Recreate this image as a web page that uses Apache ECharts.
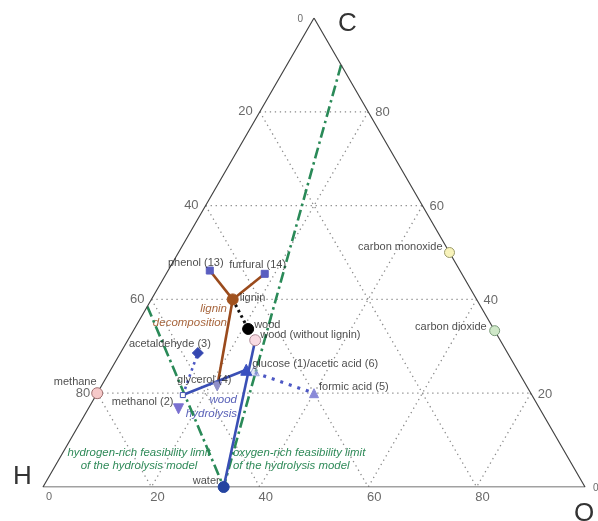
<!DOCTYPE html>
<html>
<head>
<meta charset="utf-8">
<script src="https://cdn.jsdelivr.net/npm/echarts@6/dist/echarts.min.js"></script>
<style>
html, body { margin: 0; padding: 0; background: #fff; }
#main { width: 598px; height: 521px; }
</style>
</head>
<body>
<div id="main"></div>
<script>
// compounds as atom counts C, H, O
const compounds = ['methane', 'methanol (2)', 'acetaldehyde (3)', 'glycerol (4)', 'glucose (1)/acetic acid (6)',
	'formic acid (5)', 'phenol (13)', 'furfural (14)', 'carbon monoxide', 'carbon dioxide', 'water']
const atomsC = [1, 1, 2, 3, 1, 1, 6, 5, 1, 1, 0]
const atomsH = [4, 4, 4, 8, 2, 2, 6, 4, 0, 0, 2]
const atomsO = [0, 1, 1, 3, 1, 2, 1, 2, 1, 2, 1]

// biomass points, mole fractions
const biomass = ['lignin', 'wood', 'wood (without lignin)']
const biomassC = [0.40, 0.337, 0.313]
const biomassH = [0.45, 0.453, 0.452]
const biomassO = [0.15, 0.21, 0.235]

// end of the hydrolysis branch (mole fractions)
const kneeCHO = [0.196, 0.644, 0.16]
// feasibility limits, end point on the edge (mole fractions), other end is water
const hRichEdge = [0.385, 0.615, 0]
const oRichEdge = [0.9, 0, 0.1]

const ticks = [0, 20, 40, 60, 80]
const gridLevels = [20, 40, 60, 80]

const SQ = Math.sqrt(3) / 2
function xy(p) {
	let s = p[0] + p[1] + p[2]
	let c = p[0] / s, o = p[2] / s
	return [o + c / 2, c * SQ]
}

let pts = {}
compounds.forEach((n, i) => { pts[n] = [atomsC[i], atomsH[i], atomsO[i]] })
biomass.forEach((n, i) => { pts[n] = [biomassC[i], biomassH[i], biomassO[i]] })
pts.knee = kneeCHO

let series = []
function seg(list, style, z) {
	series.push({
		type: 'line', data: list.map(xy), symbol: 'none', silent: true,
		lineStyle: style, z: z || 2
	})
}

// triangle frame
seg([[1, 0, 0], [0, 1, 0], [0, 0, 1], [1, 0, 0]], { color: '#444', width: 1.2, type: 'solid' }, 3)

// dotted grid
let gridStyle = { color: '#8a8a8a', width: 1.3, type: [1.3, 3.7] }
gridLevels.forEach(t => {
	let f = t / 100
	seg([[f, 1 - f, 0], [f, 0, 1 - f]], gridStyle, 1)
	seg([[1 - f, f, 0], [0, f, 1 - f]], gridStyle, 1)
	seg([[1 - f, 0, f], [0, 1 - f, f]], gridStyle, 1)
})

// feasibility limits
let green = { color: '#2a8a58', width: 2.6, type: [11, 4, 2.5, 4] }
seg([hRichEdge, pts.water], green, 2)
seg([oRichEdge, pts.water], green, 2)

// lignin decomposition
let brown = { color: '#9a4a1c', width: 2.6, type: 'solid' }
seg([pts['phenol (13)'], pts.lignin], brown, 4)
seg([pts['furfural (14)'], pts.lignin], brown, 4)
seg([pts.lignin, pts['glycerol (4)']], brown, 4)
seg([pts.lignin, pts.wood, pts['wood (without lignin)']], { color: '#111', width: 3, type: [2.6, 3.4] }, 4)

// wood hydrolysis
let blue = { color: '#3a4fb5', width: 2.6, type: 'solid' }
seg([pts['wood (without lignin)'], pts.water], blue, 4)
seg([pts.knee, pts['glucose (1)/acetic acid (6)']], blue, 4)
let blueDot = { color: '#4d58c4', width: 3.2, type: [3, 6] }
seg([pts['glucose (1)/acetic acid (6)'], pts['formic acid (5)']], blueDot, 4)
seg([pts.knee, pts['acetaldehyde (3)']], { color: '#4d58c4', width: 2.6, type: [2.5, 4] }, 4)

// markers
const markers = {
	'methane': { symbol: 'circle', size: 11, color: '#f6c9c9', border: '#a07070' },
	'carbon monoxide': { symbol: 'circle', size: 10, color: '#f8f3bb', border: '#9a9a6a' },
	'carbon dioxide': { symbol: 'circle', size: 10, color: '#cfe8c8', border: '#7a9a7a' },
	'water': { symbol: 'circle', size: 11, color: '#2444a0', border: '#2444a0' },
	'lignin': { symbol: 'circle', size: 11, color: '#a0521e', border: '#a0521e' },
	'wood': { symbol: 'circle', size: 11, color: '#000', border: '#000' },
	'wood (without lignin)': { symbol: 'circle', size: 11, color: '#f9dbe3', border: '#b08a96' },
	'phenol (13)': { symbol: 'rect', size: 7, color: '#5a5ec0', border: '#5a5ec0' },
	'furfural (14)': { symbol: 'rect', size: 7, color: '#5a5ec0', border: '#5a5ec0' },
	'acetaldehyde (3)': { symbol: 'diamond', size: 11, color: '#3547b0', border: '#3547b0' },
	'glycerol (4)': { symbol: 'triangle', size: 9, rotate: 180, color: '#9090c8', border: '#9090c8' },
	'methanol (2)': { symbol: 'triangle', size: 10, rotate: 180, color: '#7a70d0', border: '#7a70d0' },
	'glucose (1)/acetic acid (6)': { symbol: 'triangle', size: 11, color: '#3a50c0', border: '#3a50c0' },
	'formic acid (5)': { symbol: 'triangle', size: 9, color: '#8a8ad8', border: '#8a8ad8' },
	'knee': { symbol: 'rect', size: 5, color: '#fff', border: '#4050b0' }
}
Object.keys(markers).forEach(n => {
	let m = markers[n]
	series.push({
		type: 'scatter', data: [xy(pts[n])], symbol: m.symbol, symbolSize: m.size,
		symbolRotate: m.rotate || 0, silent: true, z: 6,
		itemStyle: { color: m.color, borderColor: m.border, borderWidth: 1, opacity: 1 }
	})
})
// acetic acid marker, lighter copy beside glucose
series.push({
	type: 'scatter', data: [xy(pts['glucose (1)/acetic acid (6)'])], symbol: 'triangle', symbolSize: 10,
	symbolOffset: [8, 1], silent: true, z: 5,
	itemStyle: { color: 'rgba(200,208,236,0.6)', borderColor: '#8894d0', borderWidth: 1 }
})

// text labels beside the points: [dx, dy, align]
const labelPlace = {
	'methane': [-22, -11, 'center'],
	'methanol (2)': [-5, -7, 'right'],
	'acetaldehyde (3)': [-28, -9, 'center'],
	'glycerol (4)': [-13, -7, 'center'],
	'glucose (1)/acetic acid (6)': [6, -6, 'left'],
	'formic acid (5)': [5, -6, 'left'],
	'phenol (13)': [-14, -8, 'center'],
	'furfural (14)': [-7, -9, 'center'],
	'lignin': [7, -1, 'left'],
	'wood': [6, -4, 'left'],
	'wood (without lignin)': [5, -5, 'left'],
	'carbon monoxide': [-7, -6, 'right'],
	'carbon dioxide': [-8, -4, 'right'],
	'water': [-4, -6, 'right']
}
let labelData = Object.keys(labelPlace).map(n => {
	let l = labelPlace[n]
	return {
		value: xy(pts[n]), name: n,
		label: { offset: [l[0], l[1]], align: l[2] }
	}
})

// tick labels
ticks.forEach(t => {
	let f = t / 100
	let small = t === 0
	labelData.push({ value: xy([0, 1 - f, f]), name: String(t),
		label: { offset: [6, 10], align: 'center', fontSize: small ? 11 : 13, color: '#444' } })
	labelData.push({ value: xy([1 - f, f, 0]), name: String(t),
		label: { offset: small ? [-11, 1] : [-7, 0], align: 'right', fontSize: small ? 10 : 13, color: '#444' } })
	labelData.push({ value: xy([f, 0, 1 - f]), name: String(t),
		label: { offset: small ? [8, 1] : [7, 1], align: 'left', fontSize: small ? 10 : 13, color: '#444' } })
})

series.push({
	type: 'scatter', data: labelData, symbolSize: 0, silent: true, z: 8,
	label: {
		show: true, position: 'inside', formatter: '{b}', verticalAlign: 'middle',
		fontFamily: 'Liberation Sans', fontSize: 11, color: '#222'
	}
})

let myChart = echarts.init(document.getElementById('main'))
let option = {
	animation: false,
	grid: { left: 43, right: 13, top: 18, bottom: 34 },
	xAxis: { type: 'value', min: 0, max: 1, show: false },
	yAxis: { type: 'value', min: 0, max: SQ, show: false },
	graphic: [
		{ type: 'text', x: 338, y: 11, style: { text: 'C', font: '26px "Liberation Sans"', fill: '#333' } },
		{ type: 'text', x: 13, y: 464, style: { text: 'H', font: '26px "Liberation Sans"', fill: '#333' } },
		{ type: 'text', x: 574, y: 501, style: { text: 'O', font: '26px "Liberation Sans"', fill: '#333' } },
		{ type: 'text', x: 227, y: 302, style: { text: 'lignin\ndecomposition', align: 'right',
			font: 'italic 11.5px "Liberation Sans"', fill: '#a8673f', lineHeight: 14 } },
		{ type: 'text', x: 237, y: 393, style: { text: 'wood\nhydrolysis', align: 'right',
			font: 'italic 11.5px "Liberation Sans"', fill: '#5a62b8', lineHeight: 14 } },
		{ type: 'text', x: 139, y: 446, style: { text: 'hydrogen-rich feasibility limit\nof the hydrolysis model',
			align: 'center', font: 'italic 11.4px "Liberation Sans"', fill: '#2e8a58', lineHeight: 13 } },
		{ type: 'text', x: 233, y: 446, style: { text: 'oxygen-rich feasibility limit\nof the hydrolysis model',
			font: 'italic 11.4px "Liberation Sans"', fill: '#2e8a58', lineHeight: 13 } }
	],
	series: series
}
myChart.setOption(option)
</script>
</body>
</html>
